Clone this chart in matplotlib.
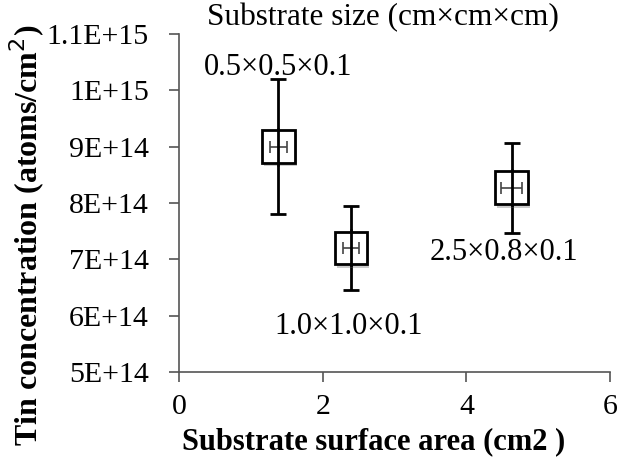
import matplotlib.pyplot as plt
import matplotlib.patheffects as pe
import numpy as np

# data
area = [1.38, 2.39, 4.63]
conc = [9.0e14, 7.2e14, 8.27e14]
conc_err = [1.2e14, 0.75e14, 0.8e14]
area_err = [0.115, 0.115, 0.15]
sizes = ['0.5×0.5×0.1', '1.0×1.0×0.1', '2.5×0.8×0.1']
label_pos = [(0.34, 1.041e15), (1.33, 5.8e14), (3.49, 7.13e14)]
yticks = np.arange(5e14, 1.11e15, 1e14)
ytick_labels = ['5E+14', '6E+14', '7E+14', '8E+14', '9E+14', '1E+15', '1.1E+15']

plt.rcParams['font.family'] = ['Liberation Serif', 'DejaVu Serif']

fig = plt.figure(figsize=(6.17, 4.66), dpi=100)
ax = fig.add_axes([0.2906, 0.2017, 0.698, 0.7253])

shadow = [pe.SimplePatchShadow(offset=(1.5, -2.5), shadow_rgbFace='0.55', alpha=0.45), pe.Normal()]

# vertical error bars
ax.errorbar(area, conc, yerr=conc_err, fmt='none', ecolor='black', elinewidth=2, capsize=5.5, capthick=2, zorder=2)
# squares
ax.plot(area, conc, linestyle='none', marker='s', markersize=23.5, markerfacecolor='white',
        markeredgecolor='black', markeredgewidth=2, zorder=3, path_effects=shadow)
# small horizontal error bars inside the squares, with the vertical line through
ax.errorbar(area, conc, xerr=area_err, fmt='none', ecolor='#444444', elinewidth=1.2, capsize=4.5, capthick=1.2, zorder=4)
ax.errorbar(area, conc, yerr=[[3.4e13] * 3, [3.4e13] * 3], fmt='none', ecolor='black', elinewidth=2, zorder=4)

for s, (lx, ly) in zip(sizes, label_pos):
    ax.text(lx, ly, s, fontsize=22, ha='left', va='center')

fig.text(0.336, 0.963, 'Substrate size (cm×cm×cm)', fontsize=22.5, ha='left', va='center')

ax.set_xlim(0, 6)
ax.set_ylim(5e14, 1.1e15)
ax.set_xticks([0, 2, 4, 6])
ax.set_yticks(yticks)
ax.set_yticklabels(ytick_labels)
ax.tick_params(labelsize=21.5, direction='out', length=7, width=1.2, color='#555555')
ax.tick_params(axis='y', pad=15)
ax.tick_params(axis='x', pad=9)
for side in ['top', 'right']:
    ax.spines[side].set_visible(False)
for side in ['left', 'bottom']:
    ax.spines[side].set_color('#555555')
    ax.spines[side].set_linewidth(1.2)

fig.text(0.605, 0.052, 'Substrate surface area (cm2 )', fontsize=22, fontweight='bold', ha='center', va='center')
fig.text(0.044, 0.494, 'Tin concentration (atoms/cm$^{2}$)', fontsize=23, fontweight='bold',
         rotation=90, ha='center', va='center')

fig.savefig('out.png', dpi=100)
